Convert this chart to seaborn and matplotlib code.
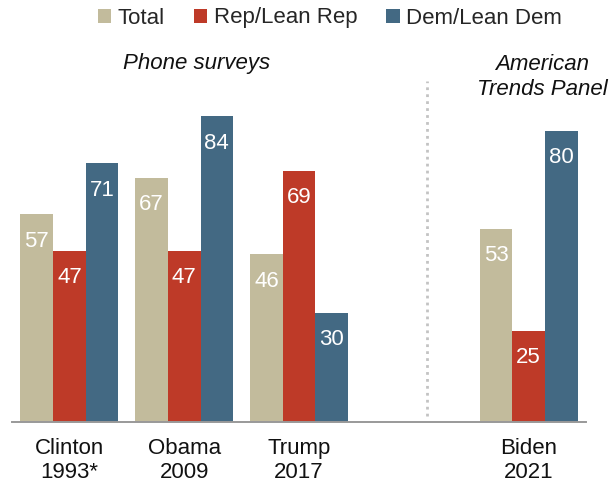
import matplotlib
matplotlib.use("Agg")
import matplotlib.pyplot as plt
import seaborn as sns
import pandas as pd
from matplotlib.patches import Patch

# Share who approve of the president's job performance, early in each term
presidents = ["Clinton\n1993*", "Obama\n2009", "Trump\n2017", "Biden\n2021"]
groups = ["Total", "Rep/Lean Rep", "Dem/Lean Dem"]
total = [57, 67, 46, 53]
rep = [47, 47, 69, 25]
dem = [71, 84, 30, 80]
colors = ["#C2BB9C", "#BE3A28", "#436983"]

sns.set_theme(style="white")
plt.rcParams["font.family"] = ["Liberation Sans", "DejaVu Sans"]

df = pd.DataFrame({
    "president": presidents * 3,
    "group": [g for g in groups for _ in presidents],
    "value": total + rep + dem,
})

# Leave an empty slot between the phone-survey era and the panel era
slots = presidents[:3] + [" "] + presidents[3:]

W, H = 614, 488
fig = plt.figure(figsize=(W / 100, H / 100), dpi=100)
ax = fig.add_axes([12 / W, (H - 421.7) / H, (586 - 12) / W, 363.9 / H])

sns.barplot(
    data=df, x="president", y="value", hue="group",
    order=slots, hue_order=groups, palette=colors,
    saturation=1, width=0.852, linewidth=0, legend=False, ax=ax,
)

for p in ax.patches:
    h = p.get_height()
    if h and h > 0:
        ax.annotate(
            f"{h:.0f}", (p.get_x() + p.get_width() / 2, h),
            xytext=(0, -32.5), textcoords="offset pixels",
            ha="center", va="baseline", color="white", fontsize=16,
        )

ax.set_xlim(-0.5, 4.5)
ax.set_ylim(0, 100)
ax.set_xlabel("")
ax.set_ylabel("")
ax.set_yticks([])
ax.tick_params(axis="x", length=0, pad=11.7, labelsize=16, colors="#111111")
for side in ("top", "left", "right"):
    ax.spines[side].set_visible(False)
ax.spines["bottom"].set_color("#999999")
ax.spines["bottom"].set_linewidth(1.4)

# Dotted divider between survey modes
ax.plot([3.113, 3.113], [1.6, 93.6], color="#C3C3C3", lw=2,
        linestyle=(0, (1, 1.5)), dash_capstyle="butt")

fig.legend(
    handles=[Patch(facecolor=c, edgecolor="none", label=g) for g, c in zip(groups, colors)],
    loc="center", bbox_to_anchor=(330 / W, 1 - 18 / H), ncol=3, frameon=False,
    fontsize=16, handlelength=0.6, handleheight=0.6, handletextpad=0.3,
    columnspacing=1.3, borderpad=0, borderaxespad=0,
)

fig.text(197 / W, 1 - 68.5 / H, "Phone surveys", style="italic",
         ha="center", va="baseline", fontsize=16, color="#111111")
fig.text(542 / W, 1 - 69.5 / H, "American", style="italic",
         ha="center", va="baseline", fontsize=16, color="#111111")
fig.text(542 / W, 1 - 95 / H, "Trends Panel", style="italic",
         ha="center", va="baseline", fontsize=16, color="#111111")

fig.savefig("out.png", dpi=100)
